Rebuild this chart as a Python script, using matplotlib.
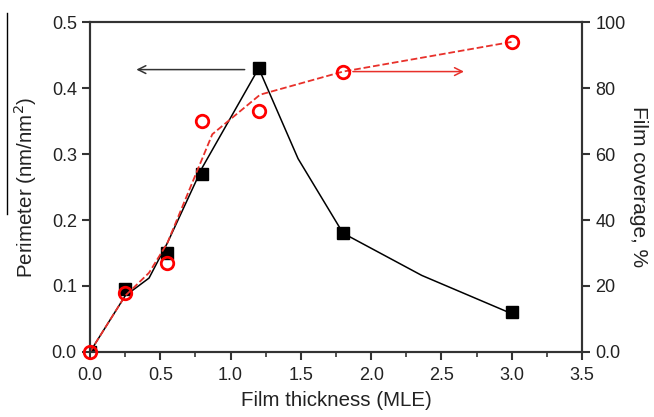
import matplotlib
matplotlib.use("Agg")
from matplotlib import pyplot as plt
from matplotlib.lines import Line2D
from matplotlib.ticker import MultipleLocator, FuncFormatter

plt.rcParams['font.family'] = ['Liberation Sans', 'DejaVu Sans']

# measured points
thickness = [0.0, 0.25, 0.55, 0.8, 1.2, 1.8, 3.0]
perimeter = [0.0, 0.095, 0.15, 0.27, 0.43, 0.18, 0.06]
coverage = [0.0, 18, 27, 70, 73, 85, 94]

# smoothed guide curves (vertices)
perim_fit_x = [0.0, 0.25, 0.42, 0.55, 0.8, 1.2, 1.48, 1.8, 2.36, 3.0]
perim_fit_y = [0.0, 0.085, 0.112, 0.165, 0.28, 0.43, 0.293, 0.18, 0.116, 0.058]
cov_fit_x = [0.0, 0.25, 0.42, 0.55, 0.87, 1.21, 1.8, 3.0]
cov_fit_y = [0.0, 17, 24, 33, 66, 78, 85, 94]

fig = plt.figure(figsize=(6.54, 4.17), dpi=100)
ax = fig.add_axes([0.1376, 0.156, 0.7524, 0.791])
ax2 = ax.twinx()

ax.plot(perim_fit_x, perim_fit_y, color='black', lw=1.1, zorder=2)
ax.plot(thickness, perimeter, 's', color='black', ms=9, zorder=3)

ax2.plot(cov_fit_x, cov_fit_y, '--', color='#e8302a', lw=1.3, zorder=2)
ax2.plot(thickness, coverage, 'o', mfc='none', mec='red', mew=2, ms=9,
         zorder=3, clip_on=False)

ax.annotate('', xy=(0.31, 0.428), xytext=(1.12, 0.428),
            arrowprops=dict(arrowstyle='->', color='#333333', lw=1.1,
                            mutation_scale=14))
ax2.annotate('', xy=(2.68, 85), xytext=(1.85, 85),
             arrowprops=dict(arrowstyle='->', color='#e8302a', lw=1.1,
                             mutation_scale=14))

ax.set_xlim(0, 3.5)
ax.set_ylim(0, 0.5)
ax2.set_ylim(0, 100)
ax.xaxis.set_major_locator(MultipleLocator(0.5))
ax.xaxis.set_minor_locator(MultipleLocator(0.25))
ax.yaxis.set_major_locator(MultipleLocator(0.1))
ax2.yaxis.set_major_locator(MultipleLocator(20))
ax.xaxis.set_major_formatter(FuncFormatter(lambda v, p: '%.1f' % v))
ax.yaxis.set_major_formatter(FuncFormatter(lambda v, p: '%.1f' % v))
ax2.yaxis.set_major_formatter(
    FuncFormatter(lambda v, p: '0.0' if v == 0 else '%d' % v))

for a in (ax, ax2):
    for s in a.spines.values():
        s.set_linewidth(1.5)
        s.set_color('#333333')
ax.tick_params(axis='both', which='major', direction='out', length=6,
               width=1.5, labelsize=13, colors='#333333')
ax.tick_params(axis='x', which='major', pad=5)
ax.tick_params(axis='x', which='minor', direction='out', length=3.5,
               width=1.2, colors='#333333')
ax.tick_params(axis='x', top=False)
ax2.tick_params(axis='y', direction='out', length=6, width=1.5,
                labelsize=13, colors='#333333')
for lbl in ax.get_xticklabels() + ax.get_yticklabels() + ax2.get_yticklabels():
    lbl.set_color('#222222')

ax.set_xlabel('Film thickness (MLE)', fontsize=14.8, color='#222222', labelpad=5)
ax.set_ylabel('Perimeter (nm/nm$^2$)', fontsize=14.8, color='#222222', labelpad=9)
ax2.set_ylabel('Film coverage, %', fontsize=15, color='#222222',
               rotation=-90, labelpad=16)

# stray overline left of the y label
fig.add_artist(Line2D([0.011, 0.011], [0.487, 0.969], color='black', lw=1.0))

fig.savefig('out.png', dpi=100)
